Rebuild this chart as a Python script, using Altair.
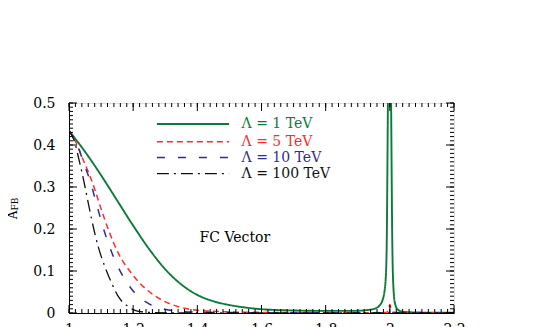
import altair as alt
import pandas as pd
import numpy as np

# ---- data ----
green_x = [1.0, 1.05, 1.1, 1.15, 1.2, 1.25, 1.3, 1.35, 1.4, 1.45, 1.5, 1.55, 1.6, 1.65, 1.7, 1.8, 1.88,
           1.93, 1.955, 1.968, 1.977, 1.983, 1.987, 1.99, 1.994, 1.997, 2.001, 2.004, 2.008, 2.012, 2.017,
           2.025, 2.04, 2.1, 2.2]
green_y = [0.434, 0.384, 0.328, 0.268, 0.208, 0.152, 0.104, 0.068, 0.043, 0.028, 0.019, 0.013, 0.009, 0.007,
           0.006, 0.005, 0.005, 0.007, 0.011, 0.018, 0.03, 0.05, 0.08, 0.15, 0.5, 0.8, 0.8, 0.5, 0.15, 0.05,
           0.02, 0.008, 0.003, 0.001, 0.0005]

red_x = [1.0, 1.013, 1.04, 1.06, 1.081, 1.094, 1.123, 1.154, 1.195, 1.237, 1.289, 1.341, 1.393, 1.45, 1.52,
         1.6, 1.75, 1.9, 1.99, 1.997, 2.0, 2.003, 2.01, 2.2]
red_y = [0.434, 0.42, 0.372, 0.336, 0.293, 0.262, 0.198, 0.142, 0.094, 0.059, 0.031, 0.015, 0.007, 0.004,
         0.002, 0.0015, 0.001, 0.0008, 0.001, 0.012, 0.02, 0.012, 0.001, 0.0002]

blue_x = [1.0, 1.024, 1.05, 1.065, 1.083, 1.112, 1.143, 1.175, 1.206, 1.247, 1.299, 1.34, 1.4, 1.5, 1.7,
          1.9, 1.995, 2.0, 2.005, 2.2]
blue_y = [0.434, 0.404, 0.348, 0.317, 0.267, 0.19, 0.126, 0.079, 0.047, 0.023, 0.009, 0.004, 0.002, 0.001,
          0.0005, 0.0003, 0.001, 0.006, 0.001, 0.0001]

black_x = [1.0, 1.019, 1.029, 1.04, 1.05, 1.06, 1.07, 1.091, 1.112, 1.133, 1.154, 1.185, 1.216, 1.26, 1.35, 2.2]
black_y = [0.434, 0.404, 0.372, 0.336, 0.30, 0.262, 0.225, 0.158, 0.110, 0.071, 0.039, 0.015, 0.004, 0.001,
           0.0002, 0.0]

labels = ["\u039b = 1 TeV", "\u039b = 5 TeV", "\u039b = 10 TeV", "\u039b = 100 TeV"]
legend_y = [0.450, 0.408, 0.370, 0.332]
x_ticks = [1.0, 1.2, 1.4, 1.6, 1.8, 2.0, 2.2]
y_ticks = [0.0, 0.1, 0.2, 0.3, 0.4, 0.5]

# ---- styles ----
colors = ["#0b7a3b", "#ff2b2b", "#2e2e8f", "#111111"]
dashes = [[1, 0], [6, 4], [8, 13], [12, 5, 2, 5]]
widths = [1.9, 1.5, 1.5, 1.3]
SERIF = "DejaVu Serif"
W, H = 385, 210

xs = alt.Scale(domain=[1.0, 2.2], nice=False, zero=False)
ys = alt.Scale(domain=[0, 0.5], nice=False, zero=False)

xaxis = alt.Axis(values=x_ticks, format=".1~f", labelFont=SERIF, labelFontSize=14, labelColor="black",
                 tickSize=0, labelPadding=9, grid=False, domainColor="black", title=None,
                 labelFlush=False, labelOverlap=False)
yaxis = alt.Axis(values=y_ticks, format=".1~f", labelFont=SERIF, labelFontSize=14, labelColor="black",
                 tickSize=0, labelPadding=14, grid=False, domainColor="black", title=None,
                 labelFlush=False, labelOverlap=False)


def X(f):
    return alt.X(f, scale=xs, axis=xaxis)


def Y(f):
    return alt.Y(f, scale=ys, axis=yaxis)


series = [(green_x, green_y), (red_x, red_y), (blue_x, blue_y), (black_x, black_y)]
layers = []
for i, (sx, sy) in enumerate(series):
    df = pd.DataFrame({"x": sx, "y": sy})
    layers.append(alt.Chart(df).mark_line(color=colors[i], strokeDash=dashes[i], strokeWidth=widths[i],
                                          clip=True, interpolate="monotone").encode(x=X("x:Q"), y=Y("y:Q")))
    # legend entry
    ldf = pd.DataFrame({"x": [1.274], "x2": [1.499], "y": [legend_y[i]], "tx": [1.538], "t": [labels[i]]})
    layers.append(alt.Chart(ldf).mark_rule(color=colors[i], strokeDash=dashes[i], strokeWidth=widths[i]).encode(
        x=X("x:Q"), x2="x2:Q", y=Y("y:Q")))
    layers.append(alt.Chart(ldf).mark_text(color=colors[i], font=SERIF, fontSize=14, align="left",
                                           baseline="middle").encode(
        x=X("tx:Q"), y=Y("y:Q"), text="t:N"))

# annotation
adf = pd.DataFrame({"x": [1.517], "y": [0.179], "t": ["FC  Vector"]})
layers.append(alt.Chart(adf).mark_text(font=SERIF, fontSize=14, color="black", baseline="middle").encode(
    x=X("x:Q"), y=Y("y:Q"), text="t:N"))

# inward ticks on all four sides
xmaj = pd.DataFrame({"v": x_ticks})
xmin = pd.DataFrame({"v": np.round(np.arange(1.0, 2.2001, 0.02), 3)})
ymaj = pd.DataFrame({"v": y_ticks})
ymin = pd.DataFrame({"v": np.round(np.arange(0.0, 0.5001, 0.01), 3)})
for d, L in ((xmaj, 8), (xmin, 4)):
    layers.append(alt.Chart(d).mark_rule(color="black", strokeWidth=1).encode(
        x=X("v:Q"), y=alt.value(H), y2=alt.value(H - L)))
    layers.append(alt.Chart(d).mark_rule(color="black", strokeWidth=1).encode(
        x=X("v:Q"), y=alt.value(0), y2=alt.value(L)))
for d, L in ((ymaj, 8), (ymin, 4)):
    layers.append(alt.Chart(d).mark_rule(color="black", strokeWidth=1).encode(
        y=Y("v:Q"), x=alt.value(0), x2=alt.value(L)))
    layers.append(alt.Chart(d).mark_rule(color="black", strokeWidth=1).encode(
        y=Y("v:Q"), x=alt.value(W), x2=alt.value(W - L)))

# y-axis title A_FB (rotated)
tdf = pd.DataFrame({"t": ["A"]})
layers.append(alt.Chart(tdf).mark_text(font=SERIF, fontSize=12, angle=270, color="black",
                                       baseline="alphabetic", align="center").encode(
    x=alt.value(-52), y=alt.value(112), text="t:N"))
tdf2 = pd.DataFrame({"t": ["FB"]})
layers.append(alt.Chart(tdf2).mark_text(font=SERIF, fontSize=9, angle=270, color="black",
                                        baseline="alphabetic", align="center").encode(
    x=alt.value(-51), y=alt.value(101), text="t:N"))

chart = alt.layer(*layers).properties(
    width=W, height=H,
    autosize=alt.AutoSizeParams(type="none"),
    padding={"left": 61, "top": 95, "right": 83, "bottom": 30},
).configure_view(stroke="black", strokeWidth=1).configure(background="white")

chart.save("out.html", embed_options={"renderer": "svg", "actions": False})
